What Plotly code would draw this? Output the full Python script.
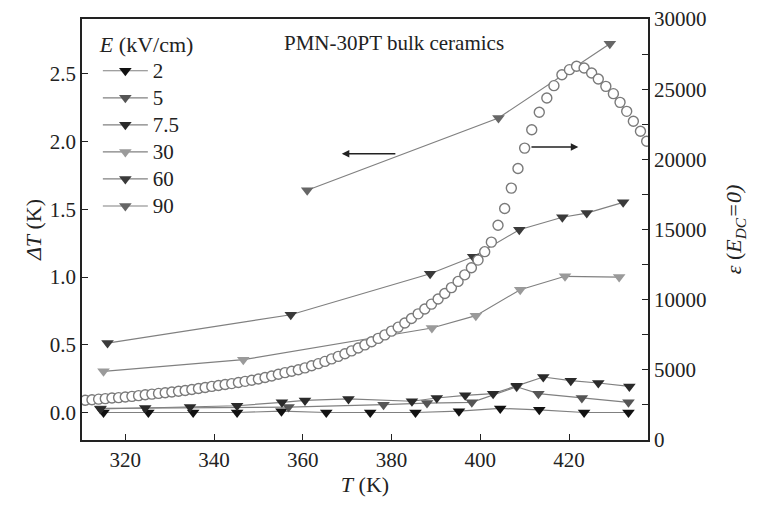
import plotly.graph_objects as go

# ---- data ----
T_2 = [315.1, 325.2, 335.3, 345.2, 355.2, 365.3, 375.2, 385.4, 395.2, 404.5, 413.3, 423.4, 433.4]
dT_2 = [0.00, 0.00, 0.00, 0.00, 0.01, 0.00, 0.00, 0.00, 0.01, 0.03, 0.02, 0.00, 0.00]

T_5 = [314.4, 356.8, 378.2, 388.0, 398.1, 408.2, 413.1, 422.9, 433.4]
dT_5 = [0.03, 0.04, 0.058, 0.07, 0.075, 0.19, 0.139, 0.107, 0.075]

T_75 = [314.4, 324.5, 334.6, 345.2, 355.3, 360.5, 370.3, 384.6, 390.2, 396.6, 402.9,
        408.2, 414.2, 420.4, 426.6, 433.6]
dT_75 = [0.026, 0.033, 0.04, 0.05, 0.075, 0.089, 0.10, 0.083, 0.107, 0.127, 0.139,
         0.198, 0.262, 0.235, 0.218, 0.193]

T_30 = [315.1, 346.6, 389.1, 399.0, 409.0, 419.1, 431.3]
dT_30 = [0.304, 0.39, 0.624, 0.715, 0.907, 1.006, 1.00]

T_60 = [316.0, 357.3, 388.7, 398.4, 408.8, 418.5, 424.0, 432.2]
dT_60 = [0.513, 0.722, 1.025, 1.15, 1.35, 1.442, 1.473, 1.552]

T_90 = [361.0, 404.1, 429.2]
dT_90 = [1.641, 2.175, 2.724]

T_eps = [311.0, 312.5, 314.0, 315.5, 317.0, 318.5, 320.0, 321.5, 323.0, 324.5,
         326.0, 327.5, 329.0, 330.5, 332.0, 333.5, 335.0, 336.5, 338.0, 339.5,
         341.0, 342.5, 344.0, 345.5, 347.0, 348.5, 350.0, 351.5, 353.0, 354.5,
         356.0, 357.5, 359.0, 360.5, 362.0, 363.5, 365.0, 366.5, 368.0, 369.5,
         371.0, 372.5, 374.0, 375.5, 377.0, 378.5, 380.0, 381.5, 383.0, 384.5,
         386.0, 387.5, 389.0, 390.5, 392.0, 393.5, 395.0, 396.5, 398.0, 399.5,
         401.0, 402.5, 404.0, 405.5, 407.0, 408.5, 410.0, 411.6, 413.3, 415.0,
         416.6, 418.4, 420.1, 421.7, 423.4, 425.1, 426.6, 428.3, 430.0, 431.5,
         433.0, 434.5, 436.1, 437.5]
eps = [2830, 2870, 2910, 2950, 2990, 3020, 3060, 3110, 3160, 3220,
       3270, 3320, 3370, 3420, 3470, 3530, 3600, 3670, 3740, 3820,
       3880, 3950, 4020, 4100, 4180, 4260, 4350, 4450, 4560, 4690,
       4800, 4900, 5010, 5140, 5290, 5440, 5600, 5780, 5960, 6150,
       6350, 6560, 6780, 7000, 7240, 7490, 7760, 8040, 8340, 8660,
       8990, 9330, 9680, 10050, 10440, 10860, 11300, 11770, 12270, 12820,
       13420, 14100, 15300, 16500, 17950, 19350, 20800, 22110, 23350, 24370,
       25250, 26030, 26390, 26630, 26510, 26150, 25720, 25200, 24680, 24060,
       23420, 22710, 22000, 21290]

x_ticks = [320, 340, 360, 380, 400, 420]
y_ticks = [0.0, 0.5, 1.0, 1.5, 2.0, 2.5]
y2_ticks = [0, 5000, 10000, 15000, 20000, 25000, 30000]

series = [
    ("2", T_2, dT_2, "#111111"),
    ("5", T_5, dT_5, "#555555"),
    ("7.5", T_75, dT_75, "#2a2a2a"),
    ("30", T_30, dT_30, "#9a9a9a"),
    ("60", T_60, dT_60, "#3a3a3a"),
    ("90", T_90, dT_90, "#666666"),
]

FONT = "Liberation Serif"
fig = go.Figure()
for name, xs, ys, col in series:
    fig.add_trace(go.Scatter(
        x=xs, y=ys, name='<span style="font-size:21px">' + name + '</span>', mode="lines+markers",
        line=dict(color="#808080", width=1.2),
        marker=dict(symbol="triangle-down", size=11, color=col, line=dict(width=0)),
    ))

fig.add_trace(go.Scatter(
    x=T_eps, y=eps, yaxis="y2", mode="markers", showlegend=False,
    marker=dict(symbol="circle", size=10, color="white", line=dict(color="#7a7a7a", width=1.4)),
))

fig.add_annotation(x=368.8, y=1.911, ax=381.2, ay=1.911, xref="x", yref="y", axref="x", ayref="y",
                   showarrow=True, arrowhead=2, arrowsize=1, arrowwidth=1.5, arrowcolor="#222", text="")
fig.add_annotation(x=422.1, y=20880, ax=411.2, ay=20880, xref="x", yref="y2", axref="x", ayref="y2",
                   showarrow=True, arrowhead=2, arrowsize=1, arrowwidth=1.5, arrowcolor="#222", text="")
fig.add_annotation(x=0.552, y=0.943, xref="paper", yref="paper", xanchor="center", yanchor="middle",
                   text="PMN-30PT bulk ceramics", showarrow=False, font=dict(family=FONT, size=21, color="#222"))

axis_common = dict(showline=True, linecolor="#222", linewidth=1.5, ticks="inside", ticklen=6,
                   tickwidth=1.2, tickcolor="#222", showgrid=False, zeroline=False,
                   ticklabeloverflow="allow",
                   tickfont=dict(family=FONT, size=21, color="#222"))

fig.update_layout(
    width=741, height=489,
    margin=dict(l=74, r=101, t=11, b=57, autoexpand=False),
    paper_bgcolor="white", plot_bgcolor="white",
    font=dict(family=FONT, size=20, color="#222"),
    xaxis=dict(range=[310.25, 437.8], tickvals=x_ticks, ticktext=[str(v) for v in x_ticks],
               mirror=True, automargin=False,
               title=dict(text="<i>T</i> (K)", standoff=9, font=dict(family=FONT, size=22)),
               **axis_common),
    yaxis=dict(range=[-0.203, 2.906], tickvals=y_ticks, ticktext=[f"{v:.1f}" for v in y_ticks],
               automargin=False,
               title=dict(text="<i>ΔT</i> (K)", standoff=2, font=dict(family=FONT, size=22)),
               **axis_common),
    yaxis2=dict(range=[0, 30000], overlaying="y", side="right", tickvals=y2_ticks,
                ticktext=[str(v) for v in y2_ticks], automargin=False,
                minor=dict(dtick=2500, ticks="inside", ticklen=6, tickwidth=1.2, tickcolor="#222"),
                title=dict(text="<i>ε</i> (<i>E</i><sub><i>DC</i></sub><i>=0)</i>", standoff=21,
                           font=dict(family=FONT, size=22)),
                **axis_common),
    legend=dict(x=0.028, y=0.989, xanchor="left", yanchor="top", bgcolor="rgba(0,0,0,0)",
                font=dict(family=FONT, size=18.5, color="#222"), itemwidth=45,
                title=dict(text="<i>E</i> (kV/cm)", font=dict(family=FONT, size=22)),
                tracegroupgap=0),
)

fig.write_html("out.html")
